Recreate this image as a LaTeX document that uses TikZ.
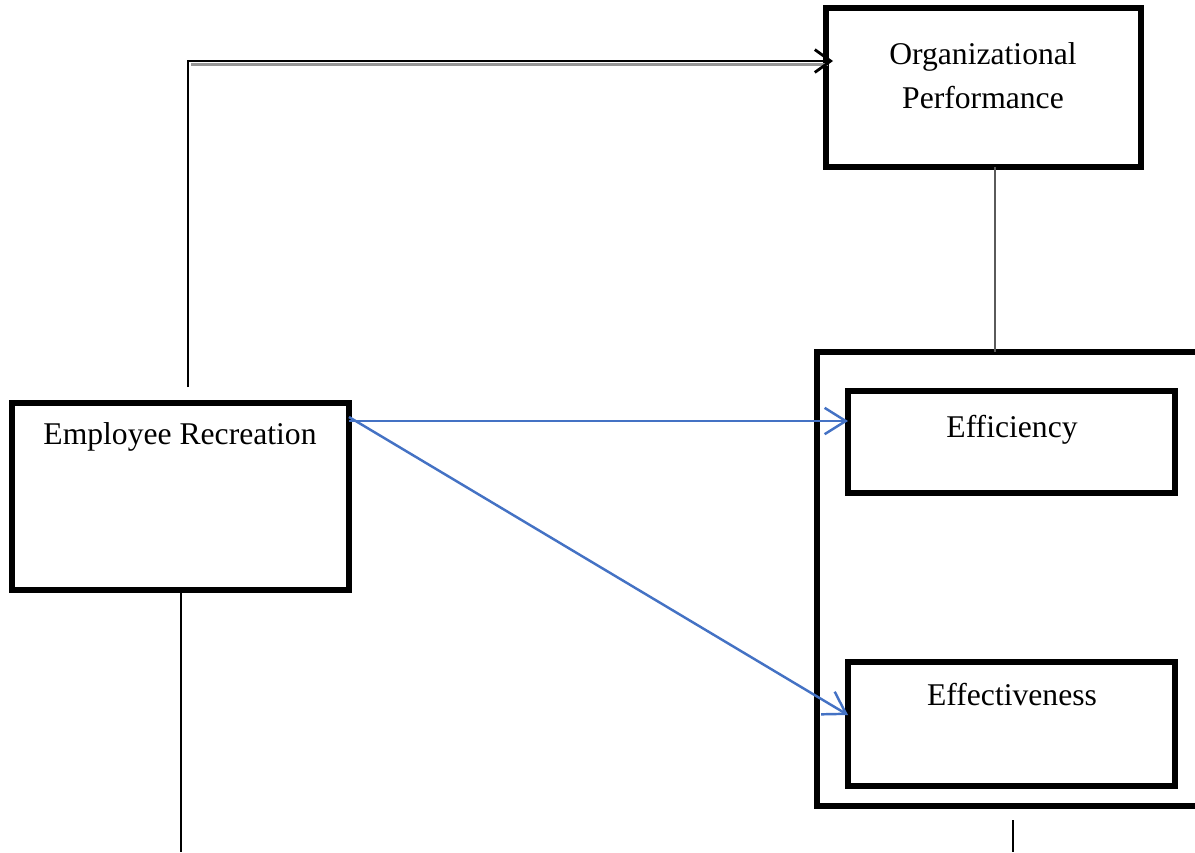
\documentclass[tikz,border=0pt]{standalone}
\usepackage{fontspec}
\setmainfont{Liberation Serif}
\usetikzlibrary{arrows.meta,positioning}
\definecolor{linkblue}{RGB}{68,114,196}
\definecolor{shadowgray}{RGB}{150,150,150}
\tikzset{
  box/.style={draw,line width=3pt,inner sep=0pt,outer sep=0pt},
  lbl/.style={font=\fontsize{18}{22}\selectfont,inner sep=0pt,align=center},
  thinline/.style={line width=0.8pt},
  bluearrow/.style={draw=linkblue,line width=1.4pt,-{Straight Barb[length=12pt,width=15pt,line width=1.4pt]}}
}
\begin{document}
\begin{tikzpicture}[x=0.02cm,y=-0.02cm]
\useasboundingbox (0,0) rectangle (1195,852);
\clip (0,0) rectangle (1195,852);
% boxes
\node[box,minimum width=6.74cm,minimum height=3.74cm] (er) at (180.5,496.5) {};
\node[box,minimum width=6.3cm,minimum height=3.18cm] (op) at (983.5,87.5) {};
\node[box,minimum width=7.86cm,minimum height=9.08cm] (group) at (1013.5,579) {};
\node[box,minimum width=6.54cm,minimum height=2.04cm] (eff) at (1011.5,442) {};
\node[box,minimum width=6.54cm,minimum height=2.48cm] (efv) at (1011.5,724) {};
% labels
\node[lbl] (ertext) at (180,437) {Employee Recreation};
\node[lbl] (optext) at (983,76) {Organizational\\[3pt]Performance};
\node[lbl] (efftext) at (1012,430) {Efficiency};
\node[lbl] (efvtext) at (1012,695) {Effectiveness};
% top connector
\coordinate (up) at (188,387);
\coordinate (corner) at (188,61);
\coordinate (tip) at (833,61);
\draw[shadowgray,line width=1.2pt] (191,64.5) -- (828,64.5);
\draw[thinline,-{Straight Barb[length=9pt,width=13pt,line width=1.6pt]}] (up) -- (corner) -- (tip);
% vertical lines
\draw[thinline,shadowgray!60!black] (op.south -| 995,0) -- (group.north -| 995,0);
\coordinate (erfoot) at (181,852);
\draw[thinline] (er.south -| erfoot) -- (erfoot);
\coordinate (grtop) at (1013,820);
\coordinate (grfoot) at (1013,852);
\draw[thinline] (grtop) -- (grfoot);
% blue arrows
\coordinate (erA) at (349,421);
\coordinate (erB) at (349,417);
\draw[bluearrow] (erA) -- (erA -| eff.west);
\draw[bluearrow] (erB) -- (eff.west |- 0,715);
\end{tikzpicture}
\end{document}
